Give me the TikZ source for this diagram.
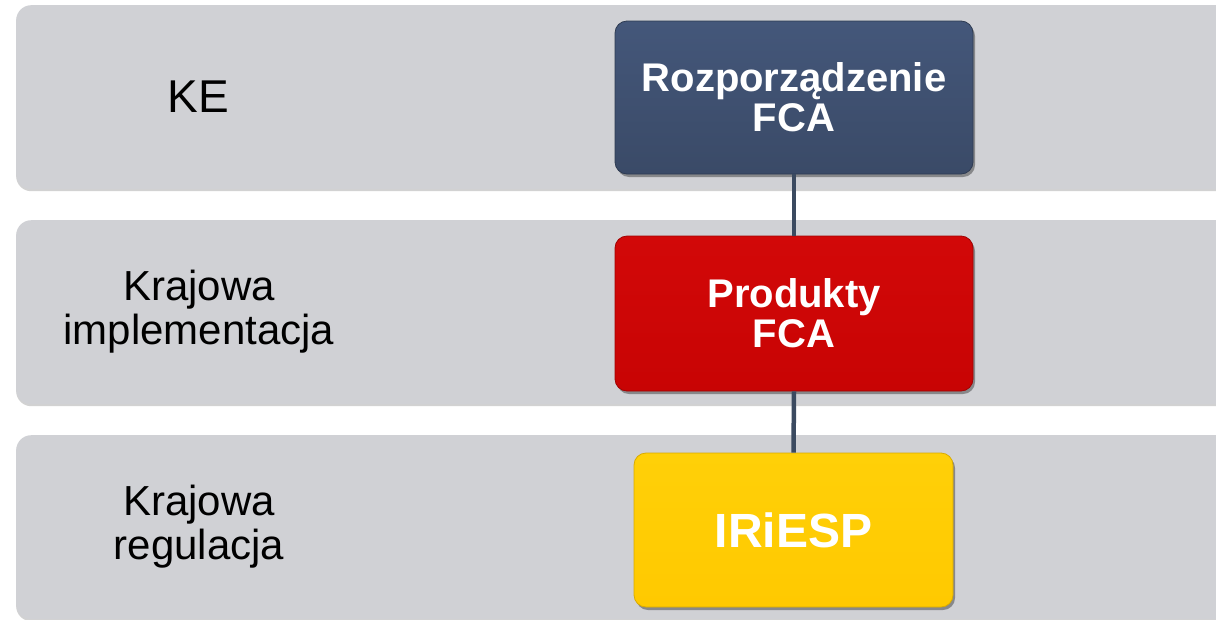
\documentclass[tikz,border=0pt]{standalone}
\usepackage{fontspec}
\setmainfont{Liberation Sans}
\usetikzlibrary{shadows,calc}
\definecolor{bandgray}{HTML}{D0D1D5}
\definecolor{navytop}{HTML}{44577A}
\definecolor{navybot}{HTML}{3A4A67}
\definecolor{redtop}{HTML}{D20808}
\definecolor{redbot}{HTML}{C80404}
\definecolor{yeltop}{HTML}{FFD008}
\definecolor{yelbot}{HTML}{FFC900}
\definecolor{linkcol}{HTML}{3B4A60}
\tikzset{
  band/.style={fill=bandgray, rounded corners=15pt, minimum width=1230pt, minimum height=184pt,
    anchor=north west, inner sep=0pt,
    drop shadow={shadow xshift=0pt, shadow yshift=-2pt, opacity=0.35, fill=gray}},
  lbl/.style={align=center, text=black, font=\fontsize{42}{44}\selectfont},
  boxbase/.style={rounded corners=12pt, inner sep=0pt, align=center, text=white,
    font=\bfseries\fontsize{40}{40}\selectfont,
    drop shadow={shadow xshift=2pt, shadow yshift=-3pt, opacity=0.35, fill=black}},
  navybox/.style={boxbase, top color=navytop, bottom color=navybot, draw=navybot!80!black, line width=0.8pt},
  redbox/.style={boxbase, top color=redtop, bottom color=redbot, draw=redbot!80!black, line width=0.8pt},
  yelbox/.style={boxbase, top color=yeltop, bottom color=yelbot, draw=yelbot!85!black, line width=0.8pt},
  link/.style={draw=linkcol, line width=4.5pt},
}
\begin{document}
\begin{tikzpicture}[x=1pt,y=-1pt]
\useasboundingbox (0,0) rectangle (1216,619);
\clip (0,0) rectangle (1216,619);
\fill[white] (0,0) rectangle (1216,619);
% bands
\node[band] (band1) at (16,5) {};
\node[band] (band2) at (16,220) {};
\node[band] (band3) at (16,435) {};
% labels
\node[lbl, font=\fontsize{46}{48}\selectfont] (lke) at (198,97) {KE};
\node[lbl] (limpl) at (199,312) {Krajowa\\implementacja};
\node[lbl] (lreg) at (199,527) {Krajowa\\regulacja};
% boxes
\node[navybox, minimum width=358pt, minimum height=153pt] (rozp) at (794,97.5) {Rozporządzenie\\FCA};
\node[redbox, minimum width=358pt, minimum height=155pt] (prod) at (794,313.5) {Produkty\\FCA};
\node[yelbox, minimum width=319pt, minimum height=154pt, font=\bfseries\fontsize{48}{48}\selectfont] (iriesp) at (793.5,530) {IRiESP};
% connectors
\draw[link] (rozp.south) -- (prod.north);
\draw[link] (prod.south) -- (iriesp.north);
\end{tikzpicture}
\end{document}
